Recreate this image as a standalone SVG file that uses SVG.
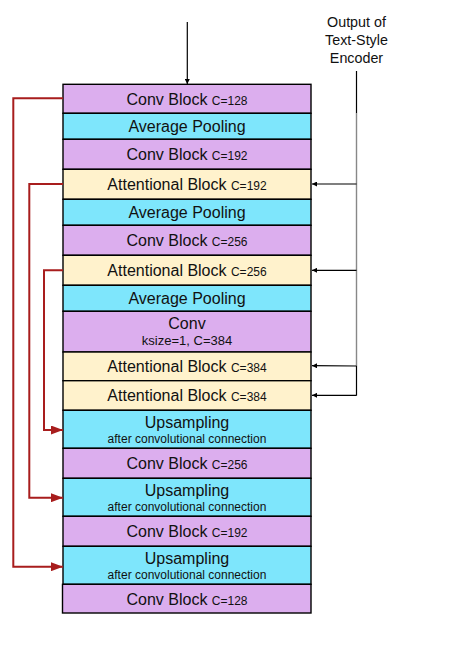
<svg xmlns="http://www.w3.org/2000/svg" width="449" height="654" viewBox="0 0 449 654">
<style>
  text { font-family: "Liberation Sans", Arial, sans-serif; fill: #111; text-anchor: middle; }
  .m { font-size: 16px; }
  .s { font-size: 12px; }
  .k { font-size: 13px; }
  .o { font-size: 14.3px; }
  rect { stroke: #000; stroke-width: 1.4; }
  .conv { fill: #dcaeee; }
  .pool { fill: #7ee6fc; }
  .attn { fill: #fff2cc; }
  .blk { stroke: #000; stroke-width: 1.2; fill: none; }
  .gry { stroke: #888; stroke-width: 1.4; fill: none; }
  .red { stroke: #a81d1d; stroke-width: 2; fill: none; }
</style>
<defs>
  <marker id="ab" viewBox="0 0 10 10" refX="10" refY="5" markerWidth="5" markerHeight="5" markerUnits="userSpaceOnUse" orient="auto">
    <path d="M0,0 L10,5 L0,10 Z" fill="#000"/>
  </marker>
  <marker id="ar" viewBox="0 0 12 9" refX="12" refY="4.5" markerWidth="12" markerHeight="9" markerUnits="userSpaceOnUse" orient="auto">
    <path d="M0,0 L12,4.5 L0,9 Z" fill="#a81d1d"/>
  </marker>
</defs>

<g id="n1"><rect class="conv" x="63" y="84.3" width="248" height="29"/><text x="187" y="104.5"><tspan class="m">Conv Block </tspan><tspan class="s">C=128</tspan></text></g>
<g id="n2"><rect class="pool" x="63" y="113.3" width="248" height="26"/><text class="m" x="187" y="131.6">Average Pooling</text></g>
<g id="n3"><rect class="conv" x="63" y="139.3" width="248" height="30"/><text x="187" y="160"><tspan class="m">Conv Block </tspan><tspan class="s">C=192</tspan></text></g>
<g id="n4"><rect class="attn" x="63" y="169.3" width="248" height="30"/><text x="187" y="190"><tspan class="m">Attentional Block </tspan><tspan class="s">C=192</tspan></text></g>
<g id="n5"><rect class="pool" x="63" y="199.3" width="248" height="26"/><text class="m" x="187" y="217.6">Average Pooling</text></g>
<g id="n6"><rect class="conv" x="63" y="225.3" width="248" height="30"/><text x="187" y="246"><tspan class="m">Conv Block </tspan><tspan class="s">C=256</tspan></text></g>
<g id="n7"><rect class="attn" x="63" y="255.3" width="248" height="30"/><text x="187" y="276"><tspan class="m">Attentional Block </tspan><tspan class="s">C=256</tspan></text></g>
<g id="n8"><rect class="pool" x="63" y="285.3" width="248" height="26"/><text class="m" x="187" y="303.6">Average Pooling</text></g>
<g id="n9"><rect class="conv" x="63" y="311.3" width="248" height="40.7"/><text class="m" x="187" y="329">Conv</text><text class="k" x="187" y="344.6">ksize=1, C=384</text></g>
<g id="n10"><rect class="attn" x="63" y="352" width="248" height="28.7"/><text x="187" y="372"><tspan class="m">Attentional Block </tspan><tspan class="s">C=384</tspan></text></g>
<g id="n11"><rect class="attn" x="63" y="380.7" width="248" height="29.6"/><text x="187" y="401"><tspan class="m">Attentional Block </tspan><tspan class="s">C=384</tspan></text></g>
<g id="n12"><rect class="pool" x="63" y="410.3" width="248" height="38"/><text class="m" x="187" y="427.8">Upsampling</text><text class="s" x="187" y="442.6">after convolutional connection</text></g>
<g id="n13"><rect class="conv" x="63" y="448.3" width="248" height="30"/><text x="187" y="469"><tspan class="m">Conv Block </tspan><tspan class="s">C=256</tspan></text></g>
<g id="n14"><rect class="pool" x="63" y="478.3" width="248" height="38"/><text class="m" x="187" y="495.8">Upsampling</text><text class="s" x="187" y="510.6">after convolutional connection</text></g>
<g id="n15"><rect class="conv" x="63" y="516.3" width="248" height="30"/><text x="187" y="537"><tspan class="m">Conv Block </tspan><tspan class="s">C=192</tspan></text></g>
<g id="n16"><rect class="pool" x="63" y="546.3" width="248" height="38"/><text class="m" x="187" y="563.8">Upsampling</text><text class="s" x="187" y="578.6">after convolutional connection</text></g>
<g id="n17"><rect class="conv" x="62.5" y="584.3" width="248.5" height="28.7"/><text x="187" y="604.5"><tspan class="m">Conv Block </tspan><tspan class="s">C=128</tspan></text></g>

<g id="encoder"><text class="o" x="356.5" y="27.3">Output of</text><text class="o" x="356.5" y="45">Text-Style</text><text class="o" x="356.5" y="62.5">Encoder</text></g>

<g id="connectors">
  <line class="blk" x1="187.3" y1="22" x2="187.3" y2="84" marker-end="url(#ab)"/>
  <line class="blk" x1="356.5" y1="71" x2="356.5" y2="113"/>
  <line class="gry" x1="356.5" y1="113" x2="356.5" y2="366"/>
  <line class="blk" x1="356.5" y1="366" x2="356.5" y2="395.6"/>
  <line class="blk" x1="356.5" y1="184" x2="312" y2="184" marker-end="url(#ab)"/>
  <line class="blk" x1="356.5" y1="270.3" x2="312" y2="270.3" marker-end="url(#ab)"/>
  <line class="blk" x1="356.5" y1="366" x2="312" y2="365.7" marker-end="url(#ab)"/>
  <line class="blk" x1="356.5" y1="395.3" x2="312" y2="395.3" marker-end="url(#ab)"/>
  <polyline class="red" points="63,98.3 13.3,98.3 13.3,566.7 63,566.7" marker-end="url(#ar)"/>
  <polyline class="red" points="63,184 29.3,184 29.3,497.7 63,497.7" marker-end="url(#ar)"/>
  <polyline class="red" points="63,270.3 44,270.3 44,430 63,430" marker-end="url(#ar)"/>
</g>
</svg>
